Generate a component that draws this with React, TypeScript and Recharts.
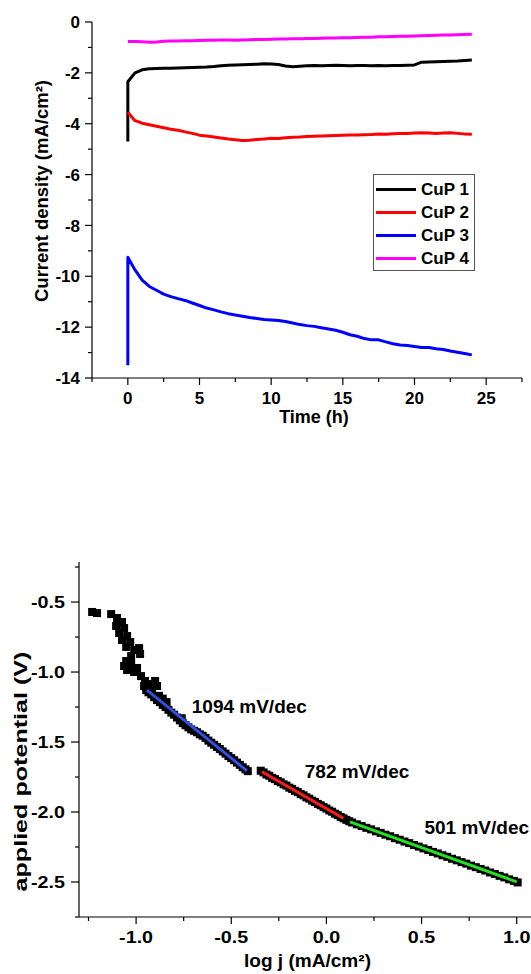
import React from "react";
import {
  ComposedChart,
  Legend,
  Line,
  LineChart,
  ReferenceDot,
  Scatter,
  XAxis,
  YAxis,
} from "recharts";

const FONT = "'Liberation Sans', Arial, Helvetica, sans-serif";

// ---------- top: chronoamperometry ----------
const hours = [
  0, 0.5, 1, 1.5, 2, 2.5, 3, 3.5, 4, 4.5,
  5, 5.5, 6, 6.5, 7, 7.5, 8, 8.5, 9, 9.5,
  10, 10.5, 11, 11.5, 12, 12.5, 13, 13.5, 14, 14.5,
  15, 15.5, 16, 16.5, 17, 17.5, 18, 18.5, 19, 19.5,
  20, 20.5, 21, 21.5, 22, 22.5, 23, 23.5, 24,
];

const cup1Start = -4.7;
const cup1 = [
  -2.35, -2.0, -1.88, -1.84, -1.83, -1.82, -1.82, -1.81, -1.8, -1.79,
  -1.78, -1.77, -1.75, -1.72, -1.7, -1.69, -1.68, -1.67, -1.66, -1.64,
  -1.65, -1.67, -1.73, -1.76, -1.74, -1.72, -1.71, -1.72, -1.71, -1.7,
  -1.71, -1.72, -1.71, -1.71, -1.72, -1.71, -1.72, -1.71, -1.71, -1.7,
  -1.69, -1.58, -1.57, -1.56, -1.55, -1.54, -1.53, -1.51, -1.49,
];

const cup2 = [
  -3.55, -3.88, -3.98, -4.04, -4.1, -4.16, -4.22, -4.26, -4.32, -4.38,
  -4.45, -4.48, -4.52, -4.56, -4.6, -4.63, -4.66, -4.65, -4.62, -4.6,
  -4.57, -4.58, -4.55, -4.53, -4.52, -4.5, -4.49, -4.48, -4.47, -4.46,
  -4.45, -4.44, -4.44, -4.43, -4.42, -4.4, -4.41, -4.39, -4.38, -4.38,
  -4.37, -4.36, -4.37, -4.38, -4.37, -4.36, -4.38, -4.4, -4.41,
];

const cup3Start = -13.5;
const cup3 = [
  -9.25, -9.75, -10.15, -10.4, -10.55, -10.7, -10.8, -10.88, -10.95, -11.05,
  -11.15, -11.25, -11.32, -11.4, -11.47, -11.52, -11.57, -11.62, -11.66, -11.7,
  -11.72, -11.74, -11.78, -11.84, -11.9, -11.94, -11.97, -12.02, -12.07, -12.12,
  -12.2, -12.3, -12.36, -12.45, -12.5, -12.5, -12.58, -12.65, -12.7, -12.72,
  -12.76, -12.8, -12.8, -12.85, -12.88, -12.94, -12.99, -13.04, -13.09,
];

const cup4 = [
  -0.77, -0.77, -0.78, -0.8, -0.79, -0.76, -0.75, -0.75, -0.74, -0.74,
  -0.73, -0.72, -0.72, -0.71, -0.71, -0.72, -0.71, -0.7, -0.69, -0.69,
  -0.68, -0.67, -0.67, -0.66, -0.66, -0.65, -0.65, -0.64, -0.63, -0.63,
  -0.62, -0.62, -0.61, -0.6, -0.6, -0.58, -0.58, -0.57, -0.56, -0.56,
  -0.55, -0.54, -0.53, -0.52, -0.51, -0.51, -0.5, -0.49, -0.48,
];

const seriesNames = ["CuP 1", "CuP 2", "CuP 3", "CuP 4"];
const seriesColors = ["#000000", "#ff0000", "#0000ff", "#ff00ff"];

const timeTicks = [-2.5, 0, 2.5, 5, 7.5, 10, 12.5, 15, 17.5, 20, 22.5, 25, 27.5];
const currentTicks = [-14, -13, -12, -11, -10, -9, -8, -7, -6, -5, -4, -3, -2, -1, 0];

// ---------- bottom: Tafel plot ----------
const tafelPoints: [number, number][] = [
  // scattered low-current region
  [-1.231, -0.571], [-1.205, -0.579], [-1.131, -0.586], [-1.1, -0.614], [-1.074, -0.643],
  [-1.105, -0.671], [-1.063, -0.686], [-1.089, -0.721], [-1.047, -0.743], [-1.074, -0.771],
  [-1.031, -0.786], [-1.052, -0.821], [-1.01, -0.843], [-0.984, -0.829], [-0.979, -0.871],
  [-1.026, -0.886], [-1.052, -0.921], [-1.063, -0.957], [-1.026, -0.943], [-1.047, -0.986],
  [-1.01, -1.0], [-0.995, -0.971], [-0.974, -1.029], [-0.953, -1.064], [-0.958, -1.1],
  [-0.932, -1.086], [-0.9, -1.064], [-0.89, -1.1], [-0.916, -1.129], [-0.947, -1.129],
  // first linear region
  [-0.935, -1.145], [-0.92, -1.16], [-0.905, -1.18], [-0.89, -1.2], [-0.88, -1.17],
  [-0.875, -1.215], [-0.86, -1.235], [-0.86, -1.19], [-0.845, -1.25], [-0.84, -1.215],
  [-0.83, -1.27], [-0.815, -1.29], [-0.8, -1.305], [-0.785, -1.325], [-0.77, -1.345],
  [-0.76, -1.33], [-0.755, -1.365], [-0.74, -1.38], [-0.725, -1.395], [-0.71, -1.41],
  [-0.695, -1.42], [-0.68, -1.43], [-0.665, -1.445], [-0.65, -1.455], [-0.635, -1.47],
  [-0.62, -1.49], [-0.605, -1.505], [-0.59, -1.52], [-0.575, -1.535], [-0.56, -1.55],
  [-0.545, -1.567], [-0.53, -1.583], [-0.515, -1.6], [-0.5, -1.615], [-0.485, -1.63],
  [-0.47, -1.647], [-0.455, -1.663], [-0.44, -1.68], [-0.425, -1.695], [-0.413, -1.708],
  // second linear region
  [-0.345, -1.705], [-0.33, -1.717], [-0.315, -1.732], [-0.3, -1.741], [-0.285, -1.756],
  [-0.27, -1.765], [-0.255, -1.779], [-0.24, -1.788], [-0.225, -1.802], [-0.21, -1.811],
  [-0.195, -1.826], [-0.18, -1.835], [-0.165, -1.849], [-0.15, -1.858], [-0.135, -1.872],
  [-0.12, -1.881], [-0.105, -1.895], [-0.09, -1.905], [-0.075, -1.919], [-0.06, -1.928],
  [-0.045, -1.942], [-0.03, -1.952], [-0.015, -1.965], [0.0, -1.975], [0.015, -1.989],
  [0.03, -1.998], [0.045, -2.012], [0.06, -2.022], [0.075, -2.035], [0.09, -2.045],
  [0.105, -2.056], [0.12, -2.066],
  // third linear region
  [0.135, -2.075], [0.16, -2.088], [0.185, -2.1], [0.21, -2.113], [0.235, -2.124],
  [0.26, -2.138], [0.285, -2.149], [0.31, -2.162], [0.335, -2.173], [0.36, -2.187],
  [0.385, -2.198], [0.41, -2.211], [0.435, -2.222], [0.46, -2.236], [0.485, -2.247],
  [0.51, -2.26], [0.535, -2.271], [0.56, -2.285], [0.585, -2.296], [0.61, -2.309],
  [0.635, -2.32], [0.66, -2.334], [0.685, -2.345], [0.71, -2.358], [0.735, -2.369],
  [0.76, -2.383], [0.785, -2.394], [0.81, -2.407], [0.835, -2.418], [0.86, -2.432],
  [0.885, -2.443], [0.91, -2.456], [0.935, -2.467], [0.96, -2.481], [0.985, -2.492],
  [1.005, -2.503],
];

const fitBlue: [number, number][] = [[-0.943, -1.129], [-0.418, -1.705]];
const fitRed: [number, number][] = [[-0.339, -1.712], [0.089, -2.045]];
const fitGreen: [number, number][] = [[0.124, -2.07], [1.0, -2.499]];
const fitColors = ["#2f4fe0", "#ff1a1a", "#22e022"];
const slopeLabels = ["1094 mV/dec", "782 mV/dec", "501 mV/dec"];
// where each slope label sits (axis units)
const slopeLabelPos: [number, number][] = [[-0.405, -1.241], [0.161, -1.707], [0.79, -2.112]];

const logJTicks = [-1.25, -1, -0.75, -0.5, -0.25, 0, 0.25, 0.5, 0.75, 1];
const potentialTicks = [-2.75, -2.5, -2.25, -2, -1.75, -1.5, -1.25, -1, -0.75, -0.5, -0.25];

// ---------- helpers ----------
const toSeries = (values: number[], start?: number) => {
  const pts = hours.map((t, i) => ({ t, v: values[i] }));
  return start === undefined ? pts : [{ t: 0, v: start }, ...pts];
};
const toXY = (pts: [number, number][]) => pts.map(([x, y]) => ({ x, y }));

const isMultiple = (v: number, step: number) =>
  Math.abs(v / step - Math.round(v / step)) < 1e-6;

// top chart geometry
const TOP_W = 531;
const TOP_H = 440;
const TOP_AX_X = 92;
const TOP_AX_Y = 378;

// bottom chart geometry
const BOT_W = 531;
const BOT_H = 474;
const BOT_AX_X = 79;
const BOT_AX_Y = 417;

const TopXTick = (props: any) => {
  const { x, payload } = props;
  const major = isMultiple(payload.value, 5);
  return (
    <g>
      <line x1={x} x2={x} y1={TOP_AX_Y} y2={TOP_AX_Y + (major ? 7 : 4)} stroke="#000" strokeWidth={1.2} />
      {major && (
        <text x={x} y={TOP_AX_Y + 26} textAnchor="middle" fontFamily={FONT} fontWeight="bold" fontSize={17} fill="#000">
          {payload.value}
        </text>
      )}
    </g>
  );
};

const TopYTick = (props: any) => {
  const { y, payload } = props;
  const major = isMultiple(payload.value, 2);
  return (
    <g>
      <line x1={TOP_AX_X - (major ? 7 : 4)} x2={TOP_AX_X} y1={y} y2={y} stroke="#000" strokeWidth={1.2} />
      {major && (
        <text x={80} y={y} dy="0.36em" textAnchor="end" fontFamily={FONT} fontWeight="bold" fontSize={17} fill="#000">
          {payload.value}
        </text>
      )}
    </g>
  );
};

const BotXTick = (props: any) => {
  const { x, payload } = props;
  const major = isMultiple(payload.value, 0.5);
  return (
    <g>
      <line x1={x} x2={x} y1={BOT_AX_Y} y2={BOT_AX_Y + (major ? 7 : 4)} stroke="#000" strokeWidth={1.2} />
      {major && (
        <text
          transform={`translate(${x},${BOT_AX_Y + 26}) scale(1.16,1)`}
          textAnchor="middle"
          fontFamily={FONT}
          fontWeight="bold"
          fontSize={17}
          fill="#000"
        >
          {payload.value.toFixed(1)}
        </text>
      )}
    </g>
  );
};

const BotYTick = (props: any) => {
  const { y, payload } = props;
  const major = isMultiple(payload.value, 0.5);
  return (
    <g>
      <line x1={BOT_AX_X - (major ? 8 : 4)} x2={BOT_AX_X} y1={y} y2={y} stroke="#000" strokeWidth={1.2} />
      {major && (
        <text
          transform={`translate(65,${y}) scale(1.16,1)`}
          dy="0.36em"
          textAnchor="end"
          fontFamily={FONT}
          fontWeight="bold"
          fontSize={17}
          fill="#000"
        >
          {payload.value.toFixed(1)}
        </text>
      )}
    </g>
  );
};

const AxisTitle = ({ tx, ty, title, vertical, size, span }: any) => (
  <text
    x={tx}
    y={ty}
    transform={vertical ? `rotate(-90 ${tx} ${ty})` : undefined}
    textAnchor="middle"
    fontFamily={FONT}
    fontWeight="bold"
    fontSize={size}
    fill="#000"
    textLength={span}
    lengthAdjust={span ? "spacingAndGlyphs" : undefined}
  >
    {title}
  </text>
);

const LegendBox = () => (
  <div
    style={{
      width: 102,
      height: 97,
      boxSizing: "border-box",
      border: "1px solid #555",
      background: "#fff",
      paddingTop: 3,
    }}
  >
    {seriesNames.map((name, i) => (
      <div key={name} style={{ display: "flex", alignItems: "center", height: 23 }}>
        <span style={{ display: "inline-block", width: 40, height: 3, marginLeft: 2, background: seriesColors[i] }} />
        <span
          style={{
            marginLeft: 5,
            fontFamily: FONT,
            fontWeight: "bold",
            fontSize: 17,
            lineHeight: "23px",
            color: "#000",
          }}
        >
          {name}
        </span>
      </div>
    ))}
  </div>
);

const StabilityChart = () => {
  const series = [
    toSeries(cup1, cup1Start),
    toSeries(cup2),
    toSeries(cup3, cup3Start),
    toSeries(cup4),
  ];
  return (
    <LineChart width={TOP_W} height={TOP_H} margin={{ top: 22, right: 9, bottom: 0, left: 0 }}>
      <XAxis
        dataKey="t"
        type="number"
        domain={[-2.5, 27.5]}
        ticks={timeTicks}
        interval={0}
        allowDataOverflow
        height={TOP_H - TOP_AX_Y}
        axisLine={{ stroke: "#000", strokeWidth: 1.2 }}
        tickLine={false}
        tickSize={0}
        tickMargin={0}
        tick={<TopXTick />}
        label={<AxisTitle tx={314} ty={423} title="Time (h)" size={18} />}
      />
      <YAxis
        dataKey="v"
        type="number"
        domain={[-14, 0]}
        ticks={currentTicks}
        interval={0}
        allowDataOverflow
        width={TOP_AX_X}
        axisLine={{ stroke: "#000", strokeWidth: 1.2 }}
        tickLine={false}
        tickSize={0}
        tickMargin={0}
        tick={<TopYTick />}
        label={<AxisTitle tx={48} ty={191} title="Current density (mA/cm²)" vertical size={18} span={222} />}
      />
      <Legend
        layout="vertical"
        align="center"
        verticalAlign="middle"
        content={() => <LegendBox />}
        wrapperStyle={{ left: 373, top: 174, width: 102, height: 97 }}
      />
      {series.map((data, i) => (
        <Line
          key={seriesNames[i]}
          name={seriesNames[i]}
          data={data}
          dataKey="v"
          type="linear"
          stroke={seriesColors[i]}
          strokeWidth={3}
          strokeLinejoin="round"
          dot={false}
          activeDot={false}
          isAnimationActive={false}
        />
      ))}
    </LineChart>
  );
};

const Square = (props: any) => {
  const { cx, cy } = props;
  return <rect x={cx - 4} y={cy - 4} width={8} height={8} fill="#000" />;
};

const NoMark = () => <g />;

const TafelChart = () => {
  const fits = [fitBlue, fitRed, fitGreen].map(toXY);
  return (
    <ComposedChart width={BOT_W} height={BOT_H} margin={{ top: 62, right: 0, bottom: 0, left: 0 }}>
      <XAxis
        dataKey="x"
        type="number"
        domain={[-1.3, 1.075]}
        ticks={logJTicks}
        interval={0}
        allowDataOverflow
        height={BOT_H - BOT_AX_Y}
        axisLine={{ stroke: "#000", strokeWidth: 1.2 }}
        tickLine={false}
        tickSize={0}
        tickMargin={0}
        tick={<BotXTick />}
        label={<AxisTitle tx={307.5} ty={467} title="log j (mA/cm²)" size={18} span={127} />}
      />
      <YAxis
        dataKey="y"
        type="number"
        domain={[-2.75, -0.214]}
        ticks={potentialTicks}
        interval={0}
        allowDataOverflow
        width={BOT_AX_X}
        axisLine={{ stroke: "#000", strokeWidth: 1.2 }}
        tickLine={false}
        tickSize={0}
        tickMargin={0}
        tick={<BotYTick />}
        label={<AxisTitle tx={27} ty={271.5} title="applied potential (V)" vertical size={18} span={240} />}
      />
      <Scatter data={toXY(tafelPoints)} shape={<Square />} isAnimationActive={false} />
      {fits.map((data, i) => (
        <Scatter
          key={slopeLabels[i]}
          data={data}
          shape={<NoMark />}
          line={{ stroke: fitColors[i], strokeWidth: 3 }}
          lineType="joint"
          isAnimationActive={false}
        />
      ))}
      {slopeLabels.map((text, i) => (
        <ReferenceDot
          key={text}
          x={slopeLabelPos[i][0]}
          y={slopeLabelPos[i][1]}
          r={1}
          fill="none"
          stroke="none"
          label={{
            value: text,
            position: "center",
            fill: "#000",
            fontSize: 19,
            fontWeight: "bold",
            fontFamily: FONT,
          }}
        />
      ))}
    </ComposedChart>
  );
};

export default function App() {
  return (
    <div
      style={{
        position: "absolute",
        left: 0,
        top: 0,
        width: 531,
        height: 974,
        overflow: "hidden",
        background: "#fff",
      }}
    >
      <div style={{ position: "absolute", left: 0, top: 0 }}>
        <StabilityChart />
      </div>
      <div style={{ position: "absolute", left: 0, top: 500 }}>
        <TafelChart />
      </div>
    </div>
  );
}
